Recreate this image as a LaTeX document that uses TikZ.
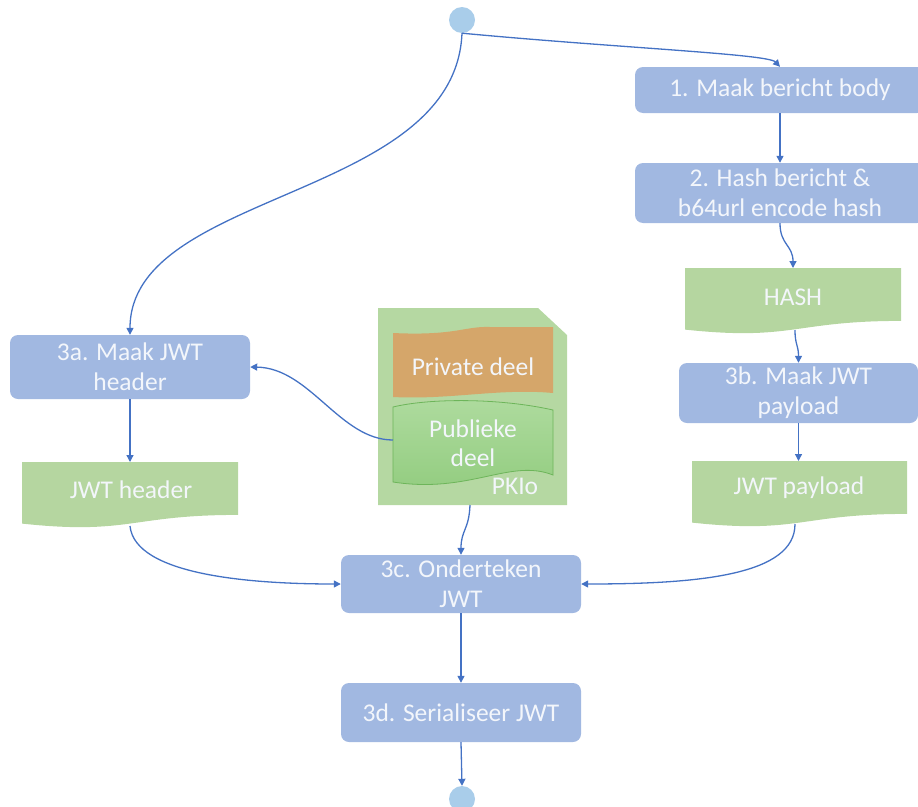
\documentclass[tikz,border=0pt]{standalone}
\usepackage{fontspec}
\setmainfont{Carlito}
\usetikzlibrary{arrows.meta}
\definecolor{boxblue}{HTML}{A1B8E1}
\definecolor{lineblue}{HTML}{4472C4}
\definecolor{docgreen}{HTML}{B5D6A0}
\definecolor{pkigreen}{HTML}{B5D8A2}
\definecolor{privorange}{HTML}{D5A66A}
\definecolor{pubgreenA}{HTML}{AEDB9E}
\definecolor{pubgreenB}{HTML}{92CC7F}
\definecolor{pubedge}{HTML}{6DB55A}
\definecolor{dotblue}{HTML}{A9CDEA}
\definecolor{txt}{HTML}{F3F6FB}
\begin{document}
\begin{tikzpicture}[x=1pt,y=-1pt,
  stepbox/.style={rectangle, rounded corners=8pt, fill=boxblue, text=txt,
    font=\fontsize{25.5}{30}\selectfont, align=center, inner sep=0pt},
  doctext/.style={text=txt, font=\fontsize{25.5}{30}\selectfont, align=center, inner sep=0pt},
  conn/.style={draw=lineblue, line width=1.3pt, -{Triangle[length=7pt,width=7pt]}},
  dot/.style={circle, fill=dotblue, minimum size=26pt, inner sep=0pt}]
\useasboundingbox (0,0) rectangle (918,806);

% terminal dots
\node[dot] (start) at (462,20) {};
\node[dot] (end) at (462,799) {};

% process boxes
\node[stepbox, minimum width=290pt, minimum height=46pt] (b1) at (780,90) {1. Maak bericht body};
\node[stepbox, minimum width=290pt, minimum height=60pt] (b2) at (780,193) {2. Hash bericht \&\\b64url encode hash};
\node[stepbox, minimum width=239pt, minimum height=60pt] (b3) at (798.5,393) {3b. Maak JWT\\payload};
\node[stepbox, minimum width=240pt, minimum height=64pt] (a3) at (130,367) {3a. Maak JWT\\header};
\node[stepbox, minimum width=240pt, minimum height=58pt] (c3) at (461,584) {3c. Onderteken\\JWT};
\node[stepbox, minimum width=240pt, minimum height=59pt] (d3) at (461,712.5) {3d. Serialiseer JWT};

% document shapes
\fill[docgreen] (685,268) -- (901,268) -- (901,320.9) .. controls (793,320.9) and (793,341.1) .. (685,329.6) -- cycle;
\node[doctext] (hash) at (793,297) {HASH};
\coordinate (hashTop) at (793,268);
\coordinate (hashBot) at (795,330);

\fill[docgreen] (22,462) -- (238,462) -- (238,514.9) .. controls (130,514.9) and (130,535.1) .. (22,523.6) -- cycle;
\node[doctext] (hdr) at (131,490) {JWT header};
\coordinate (hdrTop) at (130,462);
\coordinate (hdrBot) at (130,526);

\fill[docgreen] (692,461) -- (907,461) -- (907,513.9) .. controls (799.5,513.9) and (799.5,534.1) .. (692,522.6) -- cycle;
\node[doctext] (pay) at (799,488) {JWT payload};
\coordinate (payTop) at (799.5,461);
\coordinate (payBot) at (795,524);

% PKIo certificate
\fill[pkigreen] (378,308) -- (538,308) -- (567,335) -- (567,505) -- (378,505) -- cycle;
\fill[privorange] (393,333) .. controls (455,336) and (465,326) .. (490,327) -- (553,327) -- (553,393)
  .. controls (500,388) and (450,400) .. (393,397) -- cycle;
\shade[top color=pubgreenA, bottom color=pubgreenB] (393,407) .. controls (430,398) and (500,398) .. (553,410)
  -- (553,475) .. controls (510,458) and (470,494) .. (393,482) -- cycle;
\draw[pubedge, line width=0.8pt] (393,407) .. controls (430,398) and (500,398) .. (553,410)
  -- (553,475) .. controls (510,458) and (470,494) .. (393,482) -- cycle;
\node[doctext] (priv) at (473,367) {Private deel};
\node[doctext, font=\fontsize{25.5}{29}\selectfont] (pub) at (473,443) {Publieke\\deel};
\node[doctext] (pki) at (515,486) {PKIo};
\coordinate (pubLeft) at (393,440);
\coordinate (pkiBot) at (470,505);

% connectors
\draw[conn] (start.south) .. controls (620,48) and (768,54) .. (b1.north);
\draw[conn] (start.south) .. controls (455,200) and (130,190) .. (a3.north);
\draw[conn] (b1.south) -- (b2.north);
\draw[conn] (b2.south) .. controls (780,245) and (793,245) .. (hashTop);
\draw[conn] (hashBot) .. controls (795,345) and (798.5,345) .. (b3.north);
\draw[conn] (b3.south) -- (b3.south |- payTop);
\draw[conn] (payBot) .. controls (795,575) and (700,584) .. (c3.east);
\draw[conn] (a3.south) -- (a3.south |- hdrTop);
\draw[conn] (hdrBot) .. controls (135,575) and (250,584) .. (c3.west);
\draw[conn] (pubLeft) .. controls (340,440) and (310,368) .. (a3.east);
\draw[conn] (pkiBot) .. controls (469,530) and (461,530) .. (c3.north);
\draw[conn] (c3.south) -- (d3.north);
\draw[conn] (d3.south) -- (end.north);
\end{tikzpicture}
\end{document}
